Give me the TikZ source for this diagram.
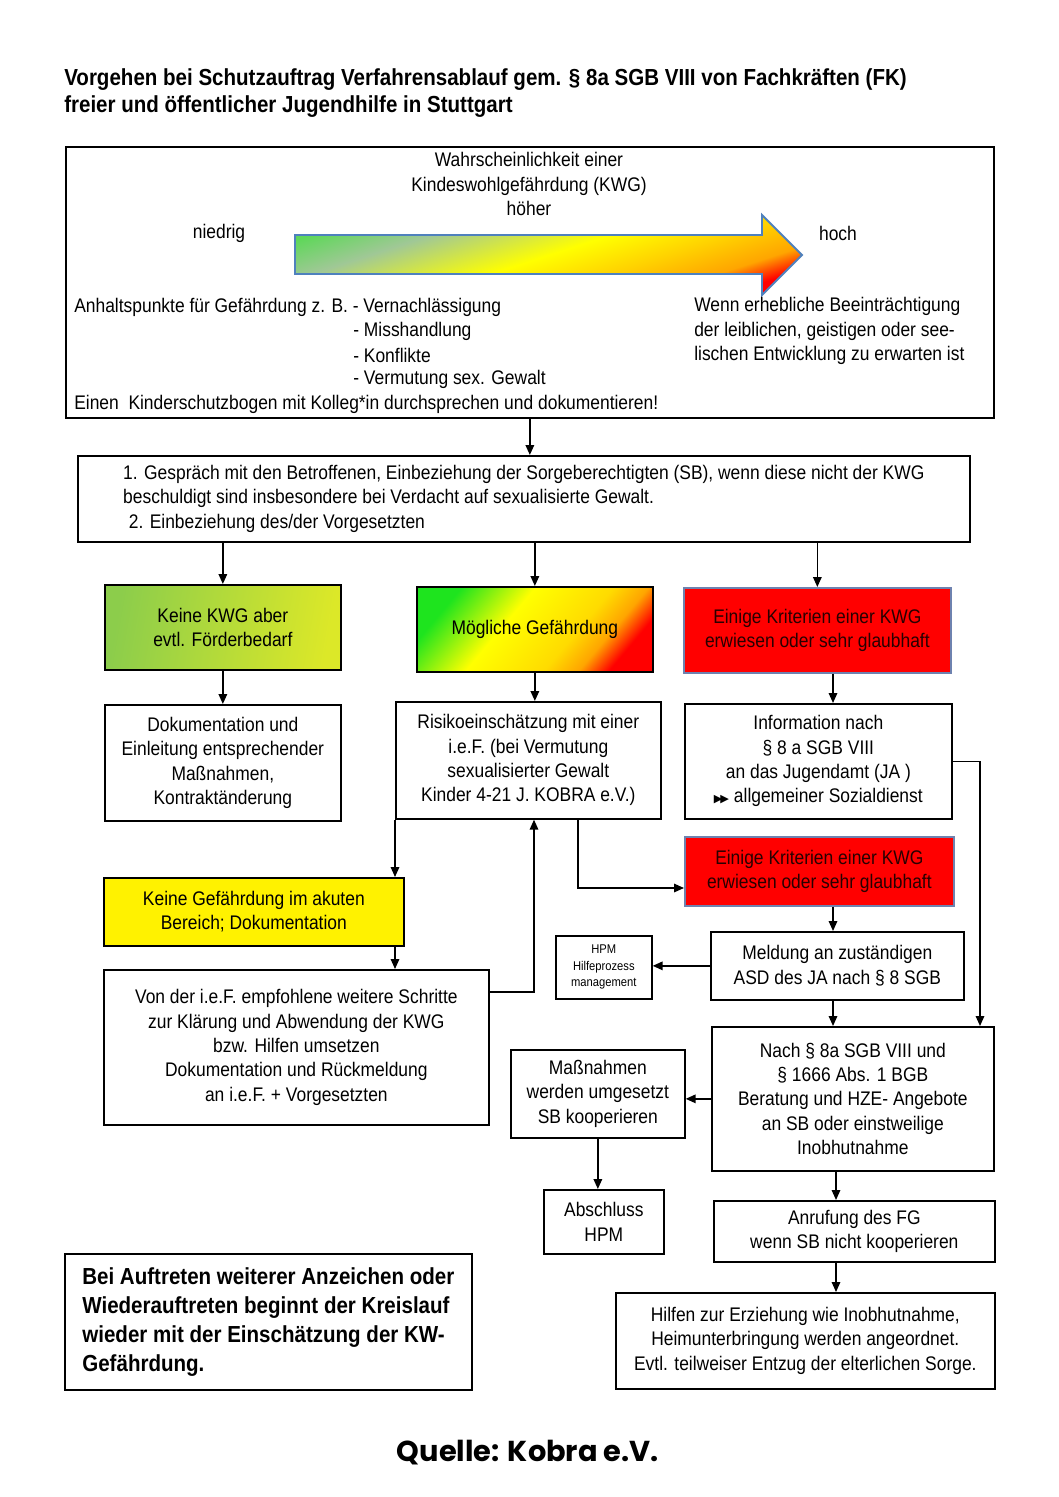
\documentclass[tikz,border=0pt]{standalone}
\usepackage{fontspec}
\setmainfont{Liberation Sans}[FakeStretch=0.885]
\newfontfamily\symfont{DejaVu Sans}
\newfontfamily\quellefont{Poppins}
\usetikzlibrary{arrows.meta}
\definecolor{frameBlue}{RGB}{79,129,189}
\definecolor{ampGreen}{RGB}{95,215,90}
\definecolor{greyGreen}{RGB}{160,200,150}
\definecolor{ampOrange}{RGB}{255,165,0}
\definecolor{leafGreen}{RGB}{140,205,75}
\definecolor{limeYellow}{RGB}{220,232,40}
\definecolor{brightGreen}{RGB}{30,228,30}
\definecolor{kwgRed}{RGB}{255,0,0}
\definecolor{kwgText}{RGB}{40,0,0}
\definecolor{redEdge}{RGB}{110,130,175}
\pgfdeclarehorizontalshading{kwgarrow}{100bp}{color(0bp)=(ampGreen); color(25bp)=(ampGreen); color(35bp)=(greyGreen); color(50bp)=(yellow); color(60bp)=(yellow!50!ampOrange); color(69bp)=(ampOrange); color(75bp)=(red); color(100bp)=(red)}
\pgfdeclarehorizontalshading{ampel}{100bp}{color(0bp)=(brightGreen); color(25bp)=(brightGreen); color(42bp)=(yellow); color(60bp)=(yellow!60!ampOrange); color(68bp)=(ampOrange); color(75bp)=(red); color(100bp)=(red)}
\def\pxl{0.025cm}
\tikzset{
  wh/.style 2 args={minimum width={#1*\pxl},minimum height={#2*\pxl}},
  cell/.style={draw,line width=1.2pt,inner sep=1pt,align=center,anchor=north west},
  txt/.style={inner sep=0pt,anchor=west,align=left},
  arr/.style={line width=1pt,-{Triangle[length=7pt,width=6pt]}},
  redcell/.style={cell,draw=redEdge,fill=kwgRed,text=kwgText}
}

\begin{document}
\begin{tikzpicture}[x=0.025cm,y=-0.025cm,font=\fontsize{14}{17.3}\selectfont]
  \useasboundingbox[fill=white] (0,0) rectangle (1058,1497);
  % Titel
  \node[txt,font=\bfseries\fontsize{16.5}{19.8}\selectfont] (titel) at (64,93)
    {Vorgehen bei Schutzauftrag Verfahrensablauf gem. § 8a SGB VIII von Fachkräften (FK)\\freier und öffentlicher Jugendhilfe in Stuttgart};

  % Kopfkasten mit Pfeil
  \node[cell,wh={928}{271}] (frame) at (65,146) {};
  \node[align=center,inner sep=0pt] (wkeit) at (529,184) {Wahrscheinlichkeit einer\\Kindeswohlgefährdung (KWG)\\höher};
  \node[inner sep=0pt] (niedrig) at (219,233) {niedrig};
  \node[inner sep=0pt] (hoch) at (838,233) {hoch};
  \draw[draw=frameBlue,line width=1.4pt,shading=kwgarrow,shading angle=-72]
    (295,235) -- (762,235) -- (762,215) -- (802,255) -- (762,295) -- (762,274) -- (295,274) -- cycle;
  \node[txt] (anhalt) at (74,307) {Anhaltspunkte für Gefährdung z. B. - Vernachlässigung};
  \foreach \y/\lab in {331/Misshandlung,355/Konflikte,379/Vermutung sex. Gewalt}
    \node[txt] at (353,\y) {- \lab};
  \node[txt] (wenn) at (694,331) {Wenn erhebliche Beeinträchtigung\\der leiblichen, geistigen oder see-\\lischen Entwicklung zu erwarten ist};
  \node[txt] (bogen) at (74,404) {Einen\ \ Kinderschutzbogen mit Kolleg*in durchsprechen und dokumentieren!};

  % Gespraech
  \node[cell,wh={892}{86},align=left] (step) at (77,455)
    {1. Gespräch mit den Betroffenen, Einbeziehung der Sorgeberechtigten (SB), wenn diese nicht der KWG\\beschuldigt sind insbesondere bei Verdacht auf sexualisierte Gewalt.\\\hspace{4pt}2. Einbeziehung des/der Vorgesetzten};

  % drei Einschaetzungen
  \node[cell,wh={236}{85},left color=leafGreen,right color=limeYellow,shading angle=80] (keine) at (104,584) {Keine KWG aber\\evtl. Förderbedarf};
  \node[cell,wh={236}{85},shading=ampel,shading angle=-40] (moegl) at (416,586) {Mögliche Gefährdung};
  \node[redcell,wh={267}{85}] (kwga) at (683,587) {Einige Kriterien einer KWG\\erwiesen oder sehr glaubhaft};

  \node[cell,wh={236}{116}] (dok) at (104,704) {Dokumentation und\\Einleitung entsprechender\\Maßnahmen,\\Kontraktänderung};
  \node[cell,wh={265}{117}] (risiko) at (395,701) {Risikoeinschätzung mit einer\\i.e.F. (bei Vermutung\\sexualisierter Gewalt\\Kinder 4-21 J. KOBRA e.V.)};
  \node[cell,wh={267}{115}] (info) at (684,703) {Information nach\\§ 8 a SGB VIII\\an das Jugendamt (JA )\\{\symfont\fontsize{8}{8}\selectfont ▶\kern-1.5pt▶}\ allgemeiner Sozialdienst};

  \node[cell,wh={300}{68},fill=yellow] (akut) at (103,877) {Keine Gefährdung im akuten\\Bereich; Dokumentation};
  \node[cell,wh={385}{155}] (von) at (103,969) {Von der i.e.F. empfohlene weitere Schritte\\zur Klärung und Abwendung der KWG\\bzw. Hilfen umsetzen\\Dokumentation und Rückmeldung\\an i.e.F. + Vorgesetzten};

  \node[redcell,wh={269}{69}] (kwgb) at (684,836) {Einige Kriterien einer KWG\\erwiesen oder sehr glaubhaft};
  \node[cell,wh={253}{68}] (meld) at (710,931) {Meldung an zuständigen\\ASD des JA nach § 8 SGB};
  \node[cell,wh={96}{63},font=\fontsize{9}{11.7}\selectfont] (hpm) at (555,935) {HPM\\Hilfeprozess\\management};
  \node[cell,wh={282}{144}] (nach) at (711,1026) {Nach § 8a SGB VIII und\\§ 1666 Abs. 1 BGB\\Beratung und HZE- Angebote\\an SB oder einstweilige\\Inobhutnahme};
  \node[cell,wh={174}{88}] (mass) at (510,1049) {Maßnahmen\\werden umgesetzt\\SB kooperieren};
  \node[cell,wh={120}{64}] (absch) at (543,1189) {Abschluss\\HPM};
  \node[cell,wh={281}{61}] (anruf) at (713,1200) {Anrufung des FG\\wenn SB nicht kooperieren};
  \node[cell,wh={379}{96}] (hilfen) at (615,1292) {Hilfen zur Erziehung wie Inobhutnahme,\\Heimunterbringung werden angeordnet.\\Evtl. teilweiser Entzug der elterlichen Sorge.};

  \node[cell,wh={407}{136},align=left,font=\bfseries\fontsize{16.5}{20.6}\selectfont] (bei) at (64,1253)
    {Bei Auftreten weiterer Anzeichen oder\\Wiederauftreten beginnt der Kreislauf\\wieder mit der Einschätzung der KW-\\Gefährdung.};

  \node[font=\quellefont\bfseries\fontsize{20.5}{22}\selectfont,inner sep=0pt] (quelle) at (528,1453) {Quelle: Kobra e.V.};

  % Verbindungen
  \coordinate (colr) at (833,0);
  \coordinate (colm) at (836,0);
  \coordinate (vback) at (534,992);
  \coordinate (rdown) at (578,888);
  \coordinate (infr) at (980,761);
  \draw[arr] (frame.south) -- (frame.south |- step.north);
  \foreach \n in {keine,moegl,kwga}
    \draw[arr] (\n.north |- step.south) -- (\n.north);
  \draw[arr] (keine.south) -- (dok.north);
  \draw[arr] (moegl.south) -- (moegl.south |- risiko.north);
  \draw[arr] (colr |- kwga.south) -- (colr |- info.north);
  \draw[arr] (risiko.south west) -- (risiko.south west |- akut.north);
  \draw[arr] (risiko.south west |- akut.south) -- (risiko.south west |- von.north);
  \draw[arr] (vback -| von.east) -- (vback) -- (vback |- risiko.south);
  \draw[arr] (rdown |- risiko.south) -- (rdown) -- (rdown -| kwgb.west);
  \draw[arr] (colr |- kwgb.south) -- (colr |- meld.north);
  \draw[arr] (meld.west) -- (meld.west -| hpm.east);
  \draw[arr] (colr |- meld.south) -- (colr |- nach.north);
  \draw[arr] (info.east) -- (info.east -| infr) -- (infr |- nach.north);
  \draw[arr] (nach.west) -- (nach.west -| mass.east);
  \draw[arr] (mass.south) -- (mass.south |- absch.north);
  \draw[arr] (colm |- nach.south) -- (colm |- anruf.north);
  \draw[arr] (colm |- anruf.south) -- (colm |- hilfen.north);
\end{tikzpicture}
\end{document}
